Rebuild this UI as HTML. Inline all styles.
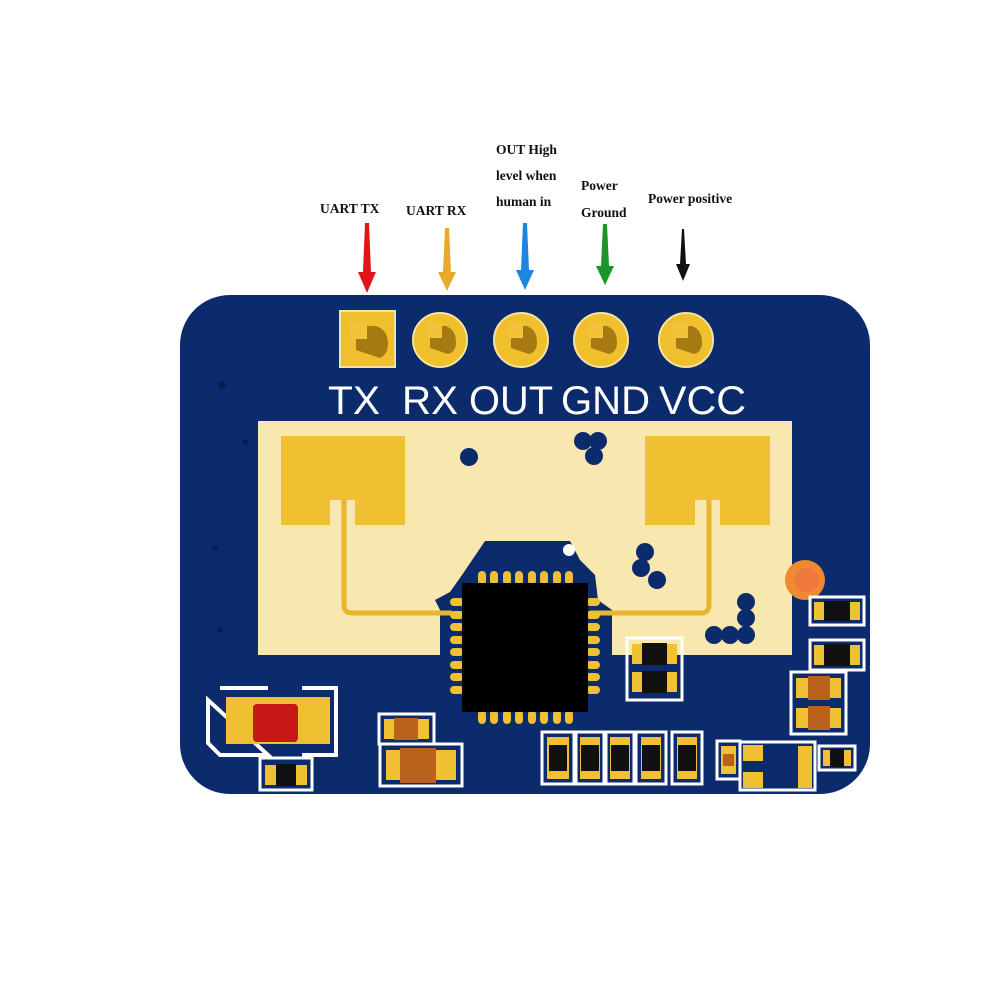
<!DOCTYPE html>
<html><head><meta charset="utf-8"><style>
html,body{margin:0;padding:0;background:#fff;width:1000px;height:1000px;overflow:hidden}
svg{display:block}
.lbl{font-family:"Liberation Serif",serif;font-weight:bold;font-size:13.5px;fill:#111}
.pin{font-family:"Liberation Sans",sans-serif;font-size:40px;fill:#fff}
</style></head><body>
<svg width="1000" height="1000" viewBox="0 0 1000 1000" xmlns="http://www.w3.org/2000/svg">
<text class="lbl" x="320" y="213">UART TX</text>
<text class="lbl" x="406" y="215">UART RX</text>
<text class="lbl" x="496" y="154">OUT High</text>
<text class="lbl" x="496" y="180">level when</text>
<text class="lbl" x="496" y="206">human in</text>
<text class="lbl" x="581" y="190">Power</text>
<text class="lbl" x="581" y="217">Ground</text>
<text class="lbl" x="648" y="203">Power positive</text>
<g>
<polygon points="365,223 369,223 371,272 376,272 367,293 358,272 363,272" fill="#e0161b"/>
<polygon points="445,228 449,228 451,272 456,272 447,291 438,272 443,272" fill="#eaa92a"/>
<polygon points="523,223 527,223 529,270 534,270 525,290 516,270 521,270" fill="#1f86e0"/>
<polygon points="603,224 607,224 609,266 614,266 605,285 596,266 601,266" fill="#1b9428"/>
<polygon points="682,229 684,229 686,264 690,264 683,281 676,264 680,264" fill="#111"/>
</g>
<rect x="180" y="295" width="690" height="499" rx="50" fill="#0c2b6c"/>
<g fill="#071d4f">
<circle cx="222" cy="385" r="4"/><circle cx="245" cy="442" r="3"/><circle cx="215" cy="548" r="3"/><circle cx="220" cy="630" r="3"/>
</g>
<rect x="258" y="421" width="534" height="234" fill="#f8e8b0"/>
<path d="M485,541 L570,541 L580,560 L595,575 L598,600 L612,610 L612,655 L440,655 L440,610 L435,600 L450,592 L462,575 Z" fill="#0c2b6c"/>
<path d="M281,436 H405 V525 H355 V500 H330 V525 H281 Z" fill="#efc032"/>
<path d="M645,436 H770 V525 H720 V500 H695 V525 H645 Z" fill="#efc032"/>
<path d="M344,500 V605 Q344,613 352,613 H452" stroke="#e9b52c" stroke-width="5" fill="none"/>
<path d="M709,500 V605 Q709,613 701,613 H590" stroke="#e9b52c" stroke-width="5" fill="none"/>
<g fill="#0c2b6c">
<circle cx="469" cy="457" r="9"/>
<circle cx="583" cy="441" r="9"/><circle cx="598" cy="441" r="9"/><circle cx="594" cy="456" r="9"/>
<circle cx="645" cy="552" r="9"/><circle cx="641" cy="568" r="9"/><circle cx="657" cy="580" r="9"/>
<circle cx="746" cy="602" r="9"/><circle cx="746" cy="618" r="9"/><circle cx="746" cy="635" r="9"/><circle cx="730" cy="635" r="9"/><circle cx="714" cy="635" r="9"/>
</g>
<circle cx="569" cy="550" r="6" fill="#fff"/>
<circle cx="805" cy="580" r="20" fill="#f08a32"/>
<circle cx="807" cy="580" r="12" fill="#f06a45" opacity="0.6"/>
<rect x="340" y="311" width="55" height="56" fill="#f0bf2e" stroke="#f6e3a0" stroke-width="2"/>
<g fill="#f0bf2e" stroke="#f6e3a0" stroke-width="2">
<circle cx="440" cy="340" r="27"/><circle cx="521" cy="340" r="27"/><circle cx="601" cy="340" r="27"/><circle cx="686" cy="340" r="27"/>
</g>
<g fill="#a57a12">
<path d="M356,326 h20 q12,4 12,18 q0,10 -8,14 l-24,-8 z"/>
<path d="M430,326 h16 q10,4 10,16 q0,10 -8,12 l-18,-6 z"/>
<path d="M511,326 h16 q10,4 10,16 q0,10 -8,12 l-18,-6 z"/>
<path d="M591,326 h16 q10,4 10,16 q0,10 -8,12 l-18,-6 z"/>
<path d="M676,326 h16 q10,4 10,16 q0,10 -8,12 l-18,-6 z"/>
</g>
<g fill="#f3c23a">
<rect x="350" y="322" width="17" height="17"/><rect x="427" y="323" width="15" height="15"/><rect x="508" y="323" width="15" height="15"/><rect x="588" y="323" width="15" height="15"/><rect x="673" y="323" width="15" height="15"/>
</g>
<text class="pin" x="328" y="414" textLength="52" lengthAdjust="spacingAndGlyphs">TX</text>
<text class="pin" x="402" y="414" textLength="56" lengthAdjust="spacingAndGlyphs">RX</text>
<text class="pin" x="469" y="414" textLength="84" lengthAdjust="spacingAndGlyphs">OUT</text>
<text class="pin" x="561" y="414" textLength="89" lengthAdjust="spacingAndGlyphs">GND</text>
<text class="pin" x="659" y="414" textLength="87" lengthAdjust="spacingAndGlyphs">VCC</text>
<g fill="#efc032">
<rect x="478" y="571" width="8" height="14" rx="4"/><rect x="490" y="571" width="8" height="14" rx="4"/><rect x="503" y="571" width="8" height="14" rx="4"/><rect x="515" y="571" width="8" height="14" rx="4"/><rect x="528" y="571" width="8" height="14" rx="4"/><rect x="540" y="571" width="8" height="14" rx="4"/><rect x="553" y="571" width="8" height="14" rx="4"/><rect x="565" y="571" width="8" height="14" rx="4"/>
<rect x="478" y="710" width="8" height="14" rx="4"/><rect x="490" y="710" width="8" height="14" rx="4"/><rect x="503" y="710" width="8" height="14" rx="4"/><rect x="515" y="710" width="8" height="14" rx="4"/><rect x="528" y="710" width="8" height="14" rx="4"/><rect x="540" y="710" width="8" height="14" rx="4"/><rect x="553" y="710" width="8" height="14" rx="4"/><rect x="565" y="710" width="8" height="14" rx="4"/>
<rect x="450" y="598" width="14" height="8" rx="4"/><rect x="450" y="611" width="14" height="8" rx="4"/><rect x="450" y="623" width="14" height="8" rx="4"/><rect x="450" y="636" width="14" height="8" rx="4"/><rect x="450" y="648" width="14" height="8" rx="4"/><rect x="450" y="661" width="14" height="8" rx="4"/><rect x="450" y="673" width="14" height="8" rx="4"/><rect x="450" y="686" width="14" height="8" rx="4"/>
<rect x="586" y="598" width="14" height="8" rx="4"/><rect x="586" y="611" width="14" height="8" rx="4"/><rect x="586" y="623" width="14" height="8" rx="4"/><rect x="586" y="636" width="14" height="8" rx="4"/><rect x="586" y="648" width="14" height="8" rx="4"/><rect x="586" y="661" width="14" height="8" rx="4"/><rect x="586" y="673" width="14" height="8" rx="4"/><rect x="586" y="686" width="14" height="8" rx="4"/>
</g>
<rect x="462" y="583" width="126" height="129" fill="#000"/>
<path d="M220,688 H268 M302,688 H336 V755 H302 M268,755 H220 L208,743 V700 Z" stroke="#fff" stroke-width="4" fill="none"/>
<rect x="226" y="697" width="104" height="47" fill="#efc032"/>
<rect x="253" y="704" width="45" height="38" rx="4" fill="#c81815"/>
<rect x="260" y="758" width="52" height="32" fill="none" stroke="#fff" stroke-width="3"/>
<rect x="265" y="765" width="42" height="20" fill="#efc032"/><rect x="276" y="764" width="20" height="22" fill="#111"/>
<rect x="379" y="714" width="55" height="30" fill="none" stroke="#fff" stroke-width="3"/>
<rect x="384" y="719" width="45" height="20" fill="#efc032"/><rect x="394" y="718" width="24" height="22" fill="#b8621e"/>
<rect x="380" y="744" width="82" height="42" fill="none" stroke="#fff" stroke-width="3"/>
<rect x="386" y="750" width="70" height="30" fill="#efc032"/><rect x="400" y="748" width="36" height="35" fill="#b8621e"/>
<rect x="627" y="638" width="55" height="62" fill="none" stroke="#fff" stroke-width="3"/>
<rect x="632" y="644" width="45" height="20" fill="#efc032"/><rect x="642" y="643" width="25" height="22" fill="#111"/>
<rect x="632" y="672" width="45" height="20" fill="#efc032"/><rect x="642" y="671" width="25" height="22" fill="#111"/>
<g stroke="#fff" stroke-width="3" fill="none">
<rect x="542" y="732" width="32" height="52"/><rect x="576" y="732" width="28" height="52"/><rect x="606" y="732" width="28" height="52"/><rect x="636" y="732" width="30" height="52"/><rect x="672" y="732" width="30" height="52"/>
</g>
<g fill="#efc032">
<rect x="547" y="737" width="22" height="42"/><rect x="580" y="737" width="20" height="42"/><rect x="610" y="737" width="20" height="42"/><rect x="641" y="737" width="20" height="42"/><rect x="677" y="737" width="20" height="42"/>
</g>
<g fill="#111">
<rect x="549" y="745" width="18" height="26"/><rect x="581" y="745" width="18" height="26"/><rect x="611" y="745" width="18" height="26"/><rect x="642" y="745" width="18" height="26"/><rect x="678" y="745" width="18" height="26"/>
</g>
<rect x="810" y="597" width="54" height="28" fill="none" stroke="#fff" stroke-width="3"/>
<rect x="814" y="602" width="46" height="18" fill="#efc032"/><rect x="824" y="601" width="26" height="20" fill="#111"/>
<rect x="810" y="640" width="54" height="30" fill="none" stroke="#fff" stroke-width="3"/>
<rect x="814" y="645" width="46" height="20" fill="#efc032"/><rect x="824" y="644" width="26" height="22" fill="#111"/>
<rect x="791" y="672" width="55" height="62" fill="none" stroke="#fff" stroke-width="3"/>
<rect x="796" y="678" width="45" height="20" fill="#efc032"/><rect x="808" y="676" width="22" height="24" fill="#b8621e"/>
<rect x="796" y="708" width="45" height="20" fill="#efc032"/><rect x="808" y="706" width="22" height="24" fill="#b8621e"/>
<rect x="717" y="741" width="23" height="38" fill="none" stroke="#fff" stroke-width="3"/>
<rect x="721" y="746" width="15" height="28" fill="#efc032"/><rect x="723" y="754" width="11" height="12" fill="#b8621e"/>
<rect x="740" y="742" width="75" height="48" fill="none" stroke="#fff" stroke-width="3"/>
<rect x="743" y="745" width="20" height="16" fill="#efc032"/><rect x="743" y="772" width="20" height="16" fill="#efc032"/>
<rect x="798" y="746" width="14" height="42" fill="#efc032"/>
<rect x="819" y="746" width="36" height="24" fill="none" stroke="#fff" stroke-width="3"/>
<rect x="823" y="750" width="28" height="16" fill="#efc032"/><rect x="830" y="749" width="14" height="18" fill="#111"/>
</svg>
</body></html>
